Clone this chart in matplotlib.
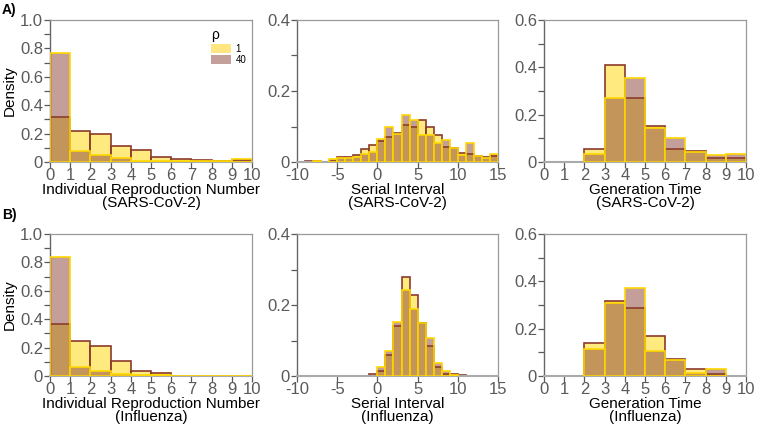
import numpy as np
import matplotlib
matplotlib.use("Agg")
import matplotlib.pyplot as plt
from matplotlib.patches import Patch
from matplotlib.ticker import MultipleLocator, FuncFormatter

plt.rcParams['font.family'] = ['Liberation Sans', 'DejaVu Sans']

# ---------------- data ----------------
r_bins = [0, 1, 2, 3, 4, 5, 6, 7, 8, 9]
si_bins = list(range(-10, 15))
gt_bins = [0, 1, 2, 3, 4, 5, 6, 7, 8, 9]

sars_r_rho1 = [0.32, 0.22, 0.20, 0.115, 0.085, 0.035, 0.018, 0.012, 0.008, 0.012]
sars_r_rho40 = [0.77, 0.08, 0.05, 0.025, 0.01, 0.008, 0.01, 0.008, 0.006, 0.018]

sars_si_rho1 = [0.001, 0.002, 0.002, 0.0, 0.004, 0.014, 0.013, 0.020, 0.036, 0.047,
                0.060, 0.071, 0.083, 0.104, 0.098, 0.118, 0.100, 0.076, 0.043, 0.040,
                0.026, 0.023, 0.016, 0.015, 0.017]
sars_si_rho40 = [0.0, 0.0, 0.004, 0.0, 0.009, 0.010, 0.012, 0.014, 0.022, 0.027,
                 0.066, 0.100, 0.079, 0.131, 0.118, 0.075, 0.075, 0.054, 0.061, 0.040,
                 0.020, 0.053, 0.018, 0.011, 0.023]

sars_gt_rho1 = [0, 0, 0.053, 0.410, 0.269, 0.151, 0.053, 0.046, 0.015, 0.015]
sars_gt_rho40 = [0, 0, 0.035, 0.269, 0.354, 0.144, 0.103, 0.044, 0.028, 0.035]

flu_r_rho1 = [0.369, 0.247, 0.209, 0.104, 0.038, 0.024, 0.003, 0.002, 0.003, 0.003]
flu_r_rho40 = [0.84, 0.064, 0.035, 0.016, 0.010, 0.005, 0.002, 0.001, 0.003, 0.003]

flu_si_rho1 = [0, 0, 0, 0, 0, 0, 0, 0, 0, 0.005,
               0.015, 0.059, 0.141, 0.280, 0.227, 0.148, 0.085, 0.024, 0.006, 0.005,
               0.002, 0, 0, 0, 0]
flu_si_rho40 = [0, 0, 0, 0, 0, 0, 0, 0, 0, 0,
                0.024, 0.071, 0.151, 0.242, 0.188, 0.150, 0.108, 0.036, 0.015, 0.002,
                0, 0, 0, 0, 0]

flu_gt_rho1 = [0, 0, 0.138, 0.318, 0.286, 0.170, 0.073, 0.028, 0.008, 0]
flu_gt_rho40 = [0, 0, 0.113, 0.307, 0.372, 0.107, 0.068, 0.014, 0.028, 0]

xlabels_top = ["Individual Reproduction Number\n(SARS-CoV-2)",
               "Serial Interval\n(SARS-CoV-2)",
               "Generation Time\n(SARS-CoV-2)"]
xlabels_bot = ["Individual Reproduction Number\n(Influenza)",
               "Serial Interval\n(Influenza)",
               "Generation Time\n(Influenza)"]
legend_labels = ["1", "40"]

# ---------------- style ----------------
Y_FACE = (1.0, 0.843, 0.0, 0.5)
B_FACE = (0.545, 0.255, 0.212, 0.5)
Y_EDGE = '#FFD700'
B_EDGE = '#8B3A2A'
TICK_C = '#5a5a5a'

fig = plt.figure(figsize=(7.57, 4.28), dpi=100)
W, H = 757, 428
cols = [(50, 252), (297, 498), (544, 746)]
rows = [(20, 162), (234, 376)]

def mk_ax(c, r):
    x0, x1 = cols[c]
    y0, y1 = rows[r]
    return fig.add_axes([x0 / W, 1 - y1 / H, (x1 - x0) / W, (y1 - y0) / H])

def draw(ax, bins, rho1, rho40):
    b = np.array(bins, dtype=float)
    h1 = np.array(rho1, dtype=float)
    h40 = np.array(rho40, dtype=float)
    m1 = h1 > 0
    m40 = h40 > 0
    ax.bar(b[m1], h1[m1], width=1, align='edge', facecolor=Y_FACE,
           edgecolor=B_EDGE, linewidth=1.2, zorder=2)
    ax.bar(b[m40], h40[m40], width=1, align='edge', facecolor=B_FACE,
           edgecolor=Y_EDGE, linewidth=1.2, zorder=3)

def yfmt(v, pos):
    return '0' if abs(v) < 1e-9 else f'{v:.1f}'

def style(ax, xlim, xticks, ylim, xlabel):
    ax.set_xlim(*xlim)
    ax.set_ylim(*ylim)
    ax.set_xticks(xticks)
    ax.set_xticklabels([str(t) for t in xticks])
    ax.yaxis.set_major_locator(MultipleLocator(0.2))
    ax.yaxis.set_minor_locator(MultipleLocator(0.1))
    ax.yaxis.set_major_formatter(FuncFormatter(yfmt))
    ax.tick_params(axis='both', which='both', direction='out', length=4,
                   width=0.9, color=TICK_C, labelcolor=TICK_C, labelsize=12, pad=1)
    ax.tick_params(axis='x', pad=0)
    for s in ['top', 'right']:
        ax.spines[s].set_color('#999999')
        ax.spines[s].set_linewidth(0.9)
    ax.spines['left'].set_color('#666666')
    ax.spines['left'].set_linewidth(1.0)
    ax.spines['bottom'].set_color('#aaaaaa')
    ax.spines['bottom'].set_linewidth(1.5)
    ax.set_xlabel(xlabel, fontsize=11, color='black', labelpad=0, linespacing=0.95)

panels = [
    [(r_bins, sars_r_rho1, sars_r_rho40, (0, 10), list(range(0, 11)), (0, 1.0)),
     (si_bins, sars_si_rho1, sars_si_rho40, (-10, 15), [-10, -5, 0, 5, 10, 15], (0, 0.4)),
     (gt_bins, sars_gt_rho1, sars_gt_rho40, (0, 10), list(range(0, 11)), (0, 0.6))],
    [(r_bins, flu_r_rho1, flu_r_rho40, (0, 10), list(range(0, 11)), (0, 1.0)),
     (si_bins, flu_si_rho1, flu_si_rho40, (-10, 15), [-10, -5, 0, 5, 10, 15], (0, 0.4)),
     (gt_bins, flu_gt_rho1, flu_gt_rho40, (0, 10), list(range(0, 11)), (0, 0.6))],
]
labels = [xlabels_top, xlabels_bot]

for r in range(2):
    for c in range(3):
        bins, h1, h40, xlim, xt, ylim = panels[r][c]
        ax = mk_ax(c, r)
        draw(ax, bins, h1, h40)
        style(ax, xlim, xt, ylim, labels[r][c])
        if c == 0:
            ax.set_ylabel('Density', fontsize=11, labelpad=2)
        if r == 0 and c == 0:
            handles = [Patch(facecolor='#FFE680', edgecolor='none'),
                       Patch(facecolor='#C4A09A', edgecolor='none')]
            leg = ax.legend(handles, legend_labels, title='ρ', loc='upper left',
                            bbox_to_anchor=(0.78, 0.97), frameon=False, fontsize=7,
                            title_fontsize=10, handlelength=2.0, handleheight=1.0,
                            handletextpad=0.5, labelspacing=0.15, borderaxespad=0)
            leg._legend_box.align = 'left'

fig.text(2 / W, 1 - 3 / H, 'A)', fontsize=10, fontweight='bold', va='top', ha='left')
fig.text(2 / W, 1 - 208 / H, 'B)', fontsize=10, fontweight='bold', va='top', ha='left')

fig.savefig('out.png', dpi=100)
